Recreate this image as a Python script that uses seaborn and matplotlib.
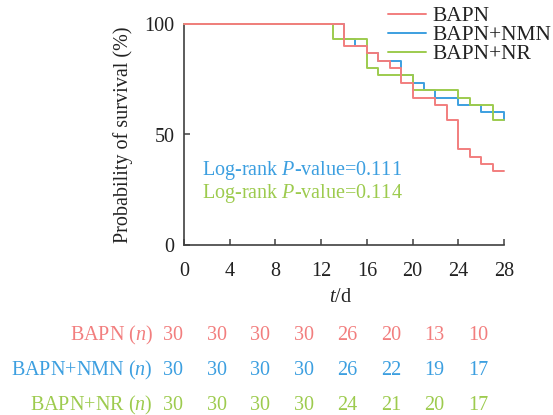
import matplotlib
matplotlib.use("Agg")
import matplotlib.pyplot as plt
import pandas as pd
import seaborn as sns
from matplotlib.lines import Line2D

groups = ["BAPN", "BAPN+NMN", "BAPN+NR"]
colors = ["#F27E7E", "#3C9FE0", "#9DCB4E"]

bapn_days = [0, 14, 16, 17, 18, 19, 20, 22, 23, 24, 25, 26, 27, 28]
bapn_surv = [100, 90, 86.7, 83.3, 80, 73.3, 66.7, 63.3, 56.7, 43.3, 40, 36.7, 33.3, 33.3]
nmn_days = [0, 14, 15, 16, 17, 19, 20, 21, 22, 24, 26, 28]
nmn_surv = [100, 93.3, 90, 86.7, 83.3, 76.7, 73.3, 70, 66.7, 63.3, 60, 56.7]
nr_days = [0, 13, 16, 17, 20, 24, 25, 27, 28]
nr_surv = [100, 93.3, 80, 76.7, 70, 66.7, 63.3, 56.7, 56.7]

risk_days = [0, 4, 8, 12, 16, 20, 24, 28]
bapn_risk = [30, 30, 30, 30, 26, 20, 13, 10]
nmn_risk = [30, 30, 30, 30, 26, 22, 19, 17]
nr_risk = [30, 30, 30, 30, 24, 21, 20, 17]

p_labels = ["Log-rank $P$-value=0.111", "Log-rank $P$-value=0.114"]

sns.set_theme(style="white")
plt.rcParams["font.family"] = ["Liberation Serif", "DejaVu Serif"]
plt.rcParams["mathtext.fontset"] = "custom"
plt.rcParams["mathtext.rm"] = "Liberation Serif"
plt.rcParams["mathtext.it"] = "Liberation Serif:italic"

fs = 14.5
W, H = 553, 415
fig = plt.figure(figsize=(W / 100, H / 100), dpi=100)
ax = fig.add_axes([184 / W, 1 - 245 / H, 320 / W, 221 / H])

frames = []
for g, d, s in [(groups[0], bapn_days, bapn_surv),
                (groups[1], nmn_days, nmn_surv),
                (groups[2], nr_days, nr_surv)]:
    frames.append(pd.DataFrame({"day": d, "surv": s, "group": g}))
df = pd.concat(frames, ignore_index=True)

sns.lineplot(data=df, x="day", y="surv", hue="group", hue_order=groups,
             palette=colors, drawstyle="steps-post", estimator=None,
             linewidth=1.4, legend=False, ax=ax)
# red on top, as in the original
for line, z in zip(ax.lines, [4, 2, 3]):
    line.set_zorder(z)
    line.set_clip_on(False)

ax.set_xlim(0, 28)
ax.set_ylim(0, 100)
ax.set_xticks(range(0, 29, 4))
ax.set_yticks([0, 50, 100])
sns.despine(ax=ax)
for sp in ["left", "bottom"]:
    ax.spines[sp].set_color("#404040")
    ax.spines[sp].set_linewidth(1.2)
ax.tick_params(direction="in", length=4, width=1.1, color="#404040",
               labelsize=fs, labelcolor="#222222", left=True, bottom=True)
ax.tick_params(axis="y", pad=7)
ax.tick_params(axis="x", pad=12)

ax.set_ylabel("Probability of survival (%)", fontsize=fs, color="#222222")
ax.yaxis.set_label_coords(-0.158, 0.5)
ax.set_xlabel("$t$/d", fontsize=fs, color="#222222")
ax.xaxis.set_label_coords(0.49, -0.195)

ax.text(1.6, 33.5, p_labels[0], color=colors[1], fontsize=fs, va="center")
ax.text(1.6, 23.5, p_labels[1], color=colors[2], fontsize=fs, va="center")

handles = [Line2D([], [], color=c, linewidth=1.4) for c in colors]
fig.legend(handles, groups, loc="upper left", bbox_to_anchor=(388 / W, 1 - 6 / H),
           frameon=False, fontsize=15.5, handlelength=1.75, handletextpad=0.3,
           labelspacing=-0.04, borderpad=0, borderaxespad=0, labelcolor="#222222")

# number-at-risk table
tab = fig.add_axes([173 / W, 0, 305 / W, 115 / H])
tab.set_xlim(0, 28)
tab.set_ylim(80 / 35, -1)
tab.axis("off")
for r, (g, risk, c) in enumerate(zip(groups, [bapn_risk, nmn_risk, nr_risk], colors)):
    tab.text(-1.85, r, f"{g} ($n$)", color=c, fontsize=fs, ha="right", va="center")
    for d, n in zip(risk_days, risk):
        tab.text(d, r, str(n), color=c, fontsize=fs, ha="center", va="center")

fig.savefig("out.png", dpi=100)
